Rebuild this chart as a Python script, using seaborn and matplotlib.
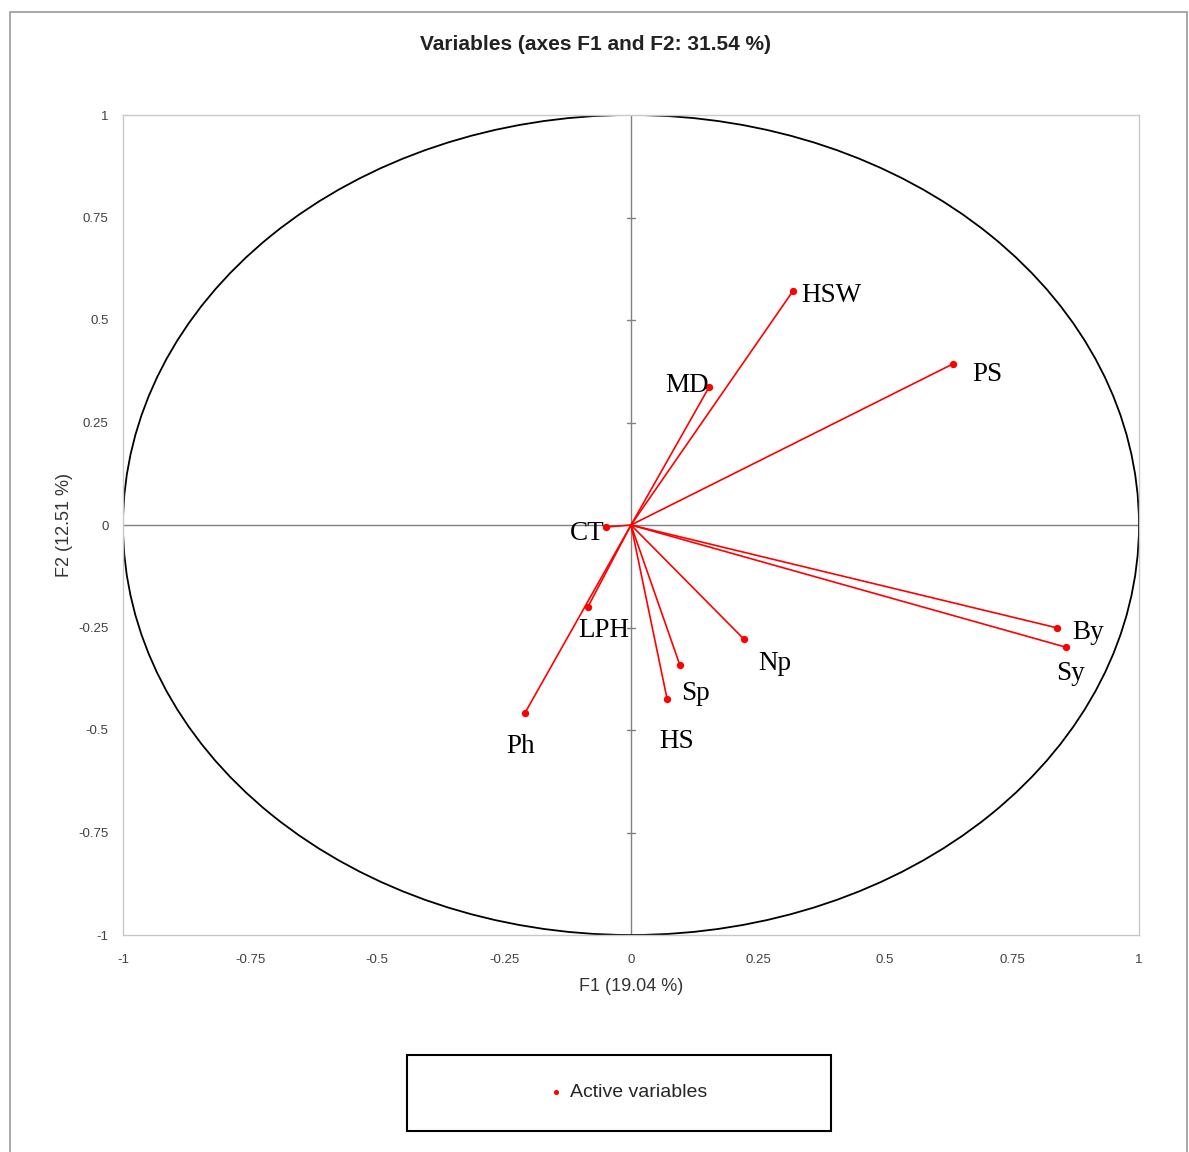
import numpy as np
import pandas as pd
import matplotlib
matplotlib.use("Agg")
import matplotlib.pyplot as plt
from matplotlib.patches import Ellipse, Rectangle
import seaborn as sns

# ------------------ Data ------------------
variables = ["HSW", "PS", "MD", "CT", "LPH", "Ph", "HS", "Sp", "Np", "By", "Sy"]
f1 = [0.319, 0.634, 0.154, -0.049, -0.085, -0.209, 0.071, 0.096, 0.222, 0.839, 0.856]
f2 = [0.571, 0.393, 0.337, -0.005, -0.200, -0.459, -0.424, -0.341, -0.278, -0.251, -0.298]
ticks = [-1, -0.75, -0.5, -0.25, 0, 0.25, 0.5, 0.75, 1]
tick_labels = ["-1", "-0.75", "-0.5", "-0.25", "0", "0.25", "0.5", "0.75", "1"]

# label offsets in points (dx, dy) and alignment
label_pos = {
    "HSW": (6, -3, "left", "center"),
    "PS": (14, -8, "left", "center"),
    "MD": (0, 1, "right", "center"),
    "CT": (-1, -5, "right", "center"),
    "LPH": (-7, -8, "left", "top"),
    "Ph": (-3, -15, "center", "top"),
    "HS": (7, -22, "center", "top"),
    "Sp": (11, -12, "center", "top"),
    "Np": (22, -9, "center", "top"),
    "By": (11, -3, "left", "center"),
    "Sy": (3, -10, "center", "top"),
}

df = pd.DataFrame({"variable": variables, "F1": f1, "F2": f2})

# ------------------ Figure ------------------
sns.set_style("white")
plt.rcParams["font.family"] = ["Liberation Sans", "DejaVu Sans"]

fig = plt.figure(figsize=(11.89, 11.52), dpi=100)
ax = fig.add_axes([123 / 1189, 1 - 935 / 1152, 1016 / 1189, 820 / 1152])

# outer frame of the picture
fig.patches.append(Rectangle((10 / 1189, -0.01), 1177 / 1189, 1 - 12 / 1152 + 0.01,
                             transform=fig.transFigure, fill=False,
                             edgecolor="#9a9a9a", linewidth=1.2))

# unit circle
ax.add_patch(Ellipse((0, 0), 2, 2, fill=False, edgecolor="black", linewidth=1.3, zorder=2))

# zero axes with small ticks
ax.axhline(0, color="#808080", linewidth=1, zorder=1)
ax.axvline(0, color="#808080", linewidth=1, zorder=1)
for t in ticks:
    if t not in (-1, 0, 1):
        ax.plot([-0.008, 0.008], [t, t], color="#808080", linewidth=1, zorder=1)

# arrows from origin to each variable
for x, y in zip(df["F1"], df["F2"]):
    ax.plot([0, x], [0, y], color="red", linewidth=1.2, zorder=3)

sns.scatterplot(data=df, x="F1", y="F2", color="red", s=28, edgecolor="red",
                linewidth=0, ax=ax, zorder=4, label="Active variables", legend=False)

for name, x, y in zip(df["variable"], df["F1"], df["F2"]):
    dx, dy, ha, va = label_pos[name]
    ax.annotate(name, (x, y), xytext=(dx, dy), textcoords="offset points",
                ha=ha, va=va, fontsize=19.5, family="Liberation Serif", color="black", zorder=5)

ax.set_xlim(-1, 1)
ax.set_ylim(-1, 1)
ax.set_xticks(ticks)
ax.set_xticklabels(tick_labels)
ax.set_yticks(ticks)
ax.set_yticklabels(tick_labels)
ax.tick_params(axis="both", length=0, labelsize=9.5, colors="#404040")
ax.tick_params(axis="x", pad=14)
ax.tick_params(axis="y", pad=10.5)
for side in ax.spines.values():
    side.set_color("#c8c8c8")
    side.set_linewidth(1)

ax.set_xlabel("F1 (19.04 %)", fontsize=13, color="#333333", labelpad=8)
ax.set_ylabel("F2 (12.51 %)", fontsize=13, color="#333333", labelpad=4)

fig.text(595 / 1189, 1 - 45 / 1152, "Variables (axes F1 and F2: 31.54 %)",
         ha="center", va="center", fontsize=15, fontweight="bold", color="#222222")

# legend box
fig.patches.append(Rectangle((407 / 1189, 1 - 1131 / 1152), 424 / 1189, 76 / 1152,
                             transform=fig.transFigure, fill=False,
                             edgecolor="black", linewidth=1.5))
handles, labels = ax.get_legend_handles_labels()
fig.legend(handles, labels, loc="center", bbox_to_anchor=(627 / 1189, 1 - 1092 / 1152),
           frameon=False, fontsize=14, markerscale=0.7, handlelength=1.0, handletextpad=0.2)

fig.savefig("out.png", dpi=100)
